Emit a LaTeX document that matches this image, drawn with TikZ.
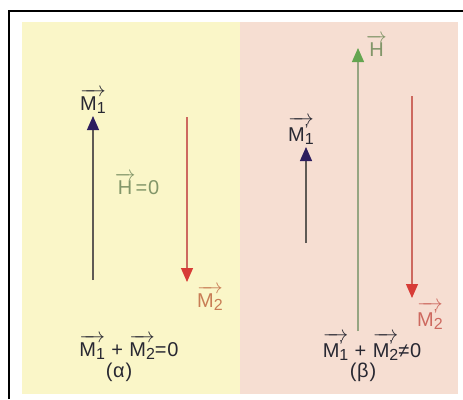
\documentclass[tikz,border=0pt]{standalone}
\usepackage{amsmath}
\usepackage{fontspec}
\setmainfont[LetterSpace=4]{Liberation Sans}
\usetikzlibrary{arrows.meta,positioning}

\definecolor{panelA}{RGB}{250,246,200}
\definecolor{panelB}{RGB}{246,222,210}
\definecolor{navyM}{RGB}{45,30,95}
\definecolor{shaftM}{RGB}{95,90,85}
\definecolor{redM}{RGB}{215,60,55}
\definecolor{redS}{RGB}{205,105,95}
\definecolor{greenH}{RGB}{100,165,80}
\definecolor{greenS}{RGB}{150,165,130}
\definecolor{labM}{RGB}{200,125,85}
\definecolor{labH}{RGB}{130,150,105}
\definecolor{ink}{RGB}{40,40,50}

% M with subscript (and optional prime), arrow over it
\newcommand{\subn}[1]{\raisebox{-3pt}{\fontsize{16}{16}\selectfont #1}}
\newcommand{\vecM}[1]{$\overrightarrow{\text{M\subn{#1}}}$}
\newcommand{\vecMp}[1]{$\overrightarrow{\text{M\rlap{\raisebox{6pt}{\fontsize{16}{16}\selectfont ’}}\subn{#1}}}$}

\begin{document}
\begin{tikzpicture}[x=1pt,y=-1pt,
    lbl/.style={font=\fontsize{20}{22}\selectfont, inner sep=0pt, text=ink},
    vec/.style={line width=1.2pt},
    tip/.style={-{Triangle[width=12pt,length=14pt,color=#1]}}]

    \useasboundingbox (0,0) rectangle (463,399);
    % frame
    \draw[line width=1.4pt] (9,399) -- (9,11) -- (463,11);
    % panels
    \fill[panelA] (22,22) rectangle (240,394);
    \fill[panelB] (240,22) rectangle (458,394);

    % (a) M1 and M2 cancel
    \coordinate (m1s) at (93,280);
    \coordinate (m1e) at (93,116);
    \draw[vec, shaftM, tip=navyM] (m1s) -- (m1e);
    \node[lbl] (m1) at (93,101) {\vecM{1}};

    \coordinate (m2s) at (187,117);
    \coordinate (m2e) at (187,282);
    \draw[vec, redS, tip=redM] (m2s) -- (m2e);
    \node[lbl, text=labM] (m2) at (210,298) {\vecM{2}};

    \node[lbl, text=labH] (h0) at (137,184) {$\overrightarrow{\text{H}}$=0};

    \node[lbl] (suma) at (129,347) {\vecM{1} + \vecM{2}=0};
    \node[lbl] (capa) at (119,372) {(α)};

    % (b) field H
    \coordinate (n1s) at (306,243);
    \coordinate (n1e) at (306,147);
    \draw[vec, shaftM, tip=navyM] (n1s) -- (n1e);
    \node[lbl] (n1) at (301,131) {\vecMp{1}};

    \coordinate (hs) at (358,331);
    \coordinate (he) at (358,48);
    \draw[vec, greenS, tip=greenH] (hs) -- (he);
    \node[lbl, text=labH, anchor=west] (h) at (366,46) {$\overrightarrow{\text{H}}$};

    \coordinate (n2s) at (412,96);
    \coordinate (n2e) at (412,298);
    \draw[vec, redS, tip=redM] (n2s) -- (n2e);
    \node[lbl, text=redS] (n2) at (430,316) {\vecMp{2}};

    \node[lbl] (sumb) at (372,347) {\vecMp{1} + \vecMp{2}≠0};
    \node[lbl] (capb) at (363,372) {(β)};

\end{tikzpicture}
\end{document}
